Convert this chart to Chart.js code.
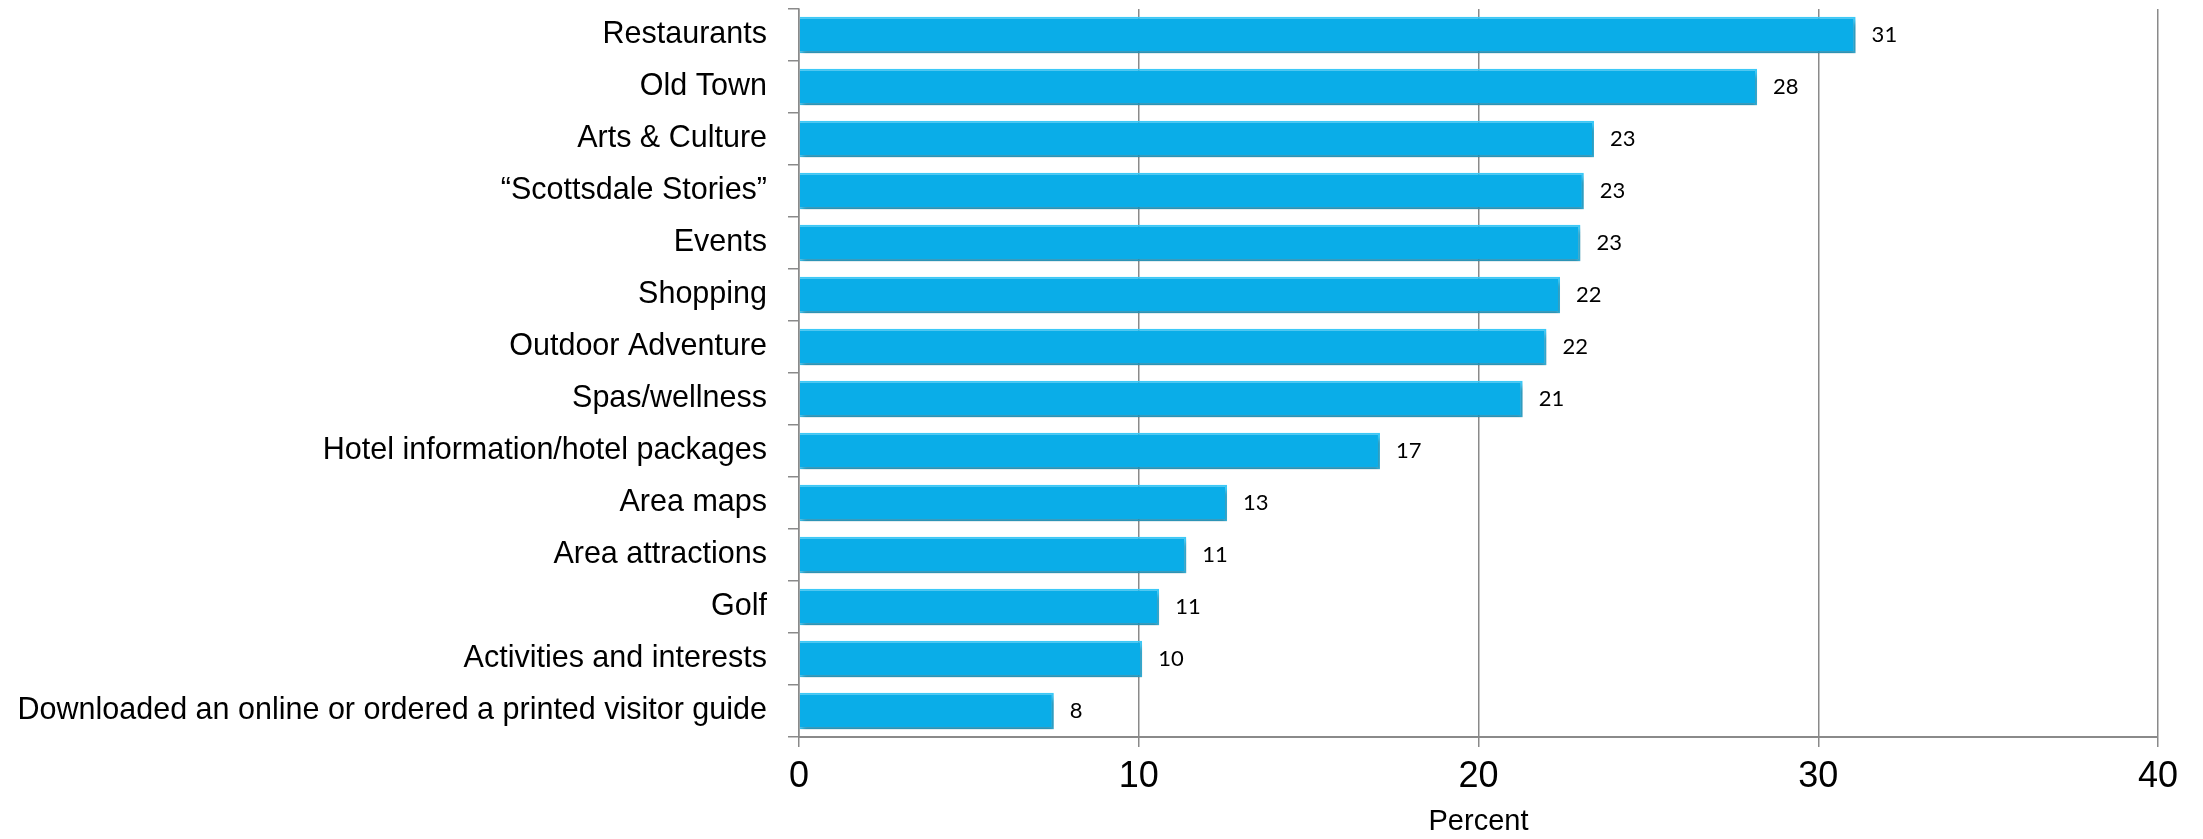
<!DOCTYPE html>
<html lang="en">
<head>
    <meta charset="UTF-8">
    <title>Website content used</title>
    <script src="https://cdn.jsdelivr.net/npm/chart.js"></script>
    <style>
        html, body { margin: 0; padding: 0; background: #fff; }
        #wrap { width: 2203px; height: 839px; }
    </style>
</head>
<body>
    <div id="wrap"><canvas id="barChart" width="2203" height="839"></canvas></div>

    <script>
        const categories = [
            'Restaurants',
            'Old Town',
            'Arts & Culture',
            '\u201CScottsdale Stories\u201D',
            'Events',
            'Shopping',
            'Outdoor Adventure',
            'Spas/wellness',
            'Hotel information/hotel packages',
            'Area maps',
            'Area attractions',
            'Golf',
            'Activities and interests',
            'Downloaded an online or ordered a printed visitor guide'
        ];
        const percentValues = [31.1, 28.2, 23.4, 23.1, 23.0, 22.4, 22.0, 21.3, 17.1, 12.6, 11.4, 10.6, 10.1, 7.5];
        const valueLabels = ['31', '28', '23', '23', '23', '22', '22', '21', '17', '13', '11', '11', '10', '8'];
        const xTicks = [0, 10, 20, 30, 40];

        // soft drop shadow under the bars
        const barShadow = {
            id: 'barShadow',
            beforeDatasetsDraw(chart) {
                const ctx = chart.ctx;
                ctx.save();
                ctx.shadowColor = 'rgba(0,0,0,0.35)';
                ctx.shadowBlur = 5;
                ctx.shadowOffsetX = 2;
                ctx.shadowOffsetY = 4;
            },
            afterDatasetsDraw(chart) {
                chart.ctx.restore();
            }
        };

        // value labels to the right of each bar
        const valueText = {
            id: 'valueText',
            afterDatasetsDraw(chart) {
                const ctx = chart.ctx;
                const meta = chart.getDatasetMeta(0);
                ctx.save();
                ctx.font = '22px Lato, "Open Sans", sans-serif';
                ctx.fillStyle = '#000';
                ctx.textAlign = 'left';
                ctx.textBaseline = 'middle';
                meta.data.forEach((bar, i) => {
                    ctx.fillText(valueLabels[i], bar.x + 16, bar.y);
                });
                ctx.restore();
            }
        };

        const ctx = document.getElementById('barChart').getContext('2d');
        new Chart(ctx, {
            type: 'bar',
            data: {
                labels: categories,
                datasets: [{
                    data: percentValues,
                    backgroundColor: '#0aade8',
                    borderColor: '#3cc9f7',
                    borderWidth: 2,
                    borderSkipped: 'start',
                    barPercentage: 0.7,
                    categoryPercentage: 1.0
                }]
            },
            options: {
                indexAxis: 'y',
                responsive: false,
                animation: false,
                layout: { padding: { top: 9, right: 45, left: 0, bottom: 0 } },
                plugins: {
                    legend: { display: false },
                    tooltip: { enabled: false }
                },
                scales: {
                    x: {
                        min: 0,
                        max: 40,
                        afterBuildTicks: (scale) => { scale.ticks = xTicks.map(v => ({ value: v })); },
                        afterFit: (scale) => { scale.height = 102; },
                        ticks: {
                            color: '#000',
                            padding: 8,
                            font: { family: '"Liberation Sans", Arial, sans-serif', size: 36 }
                        },
                        grid: {
                            color: '#8a8a8a',
                            lineWidth: 1.5,
                            tickLength: 10
                        },
                        border: { color: '#8a8a8a', width: 2 },
                        title: {
                            display: true,
                            text: 'Percent',
                            color: '#000',
                            padding: 0,
                            font: { family: '"Liberation Sans", Arial, sans-serif', size: 29 }
                        }
                    },
                    y: {
                        afterFit: (scale) => {
                            scale.width = 799;
                            scale.paddingTop = 0;
                            scale.paddingBottom = 0;
                        },
                        ticks: {
                            color: '#000',
                            padding: 21,
                            font: { family: '"Liberation Sans", Arial, sans-serif', size: 30.5 }
                        },
                        grid: {
                            drawOnChartArea: false,
                            color: '#8a8a8a',
                            lineWidth: 1.5,
                            tickLength: 11
                        },
                        border: { color: '#8a8a8a', width: 1.5 }
                    }
                }
            },
            plugins: [barShadow, valueText]
        });
    </script>
</body>
</html>
